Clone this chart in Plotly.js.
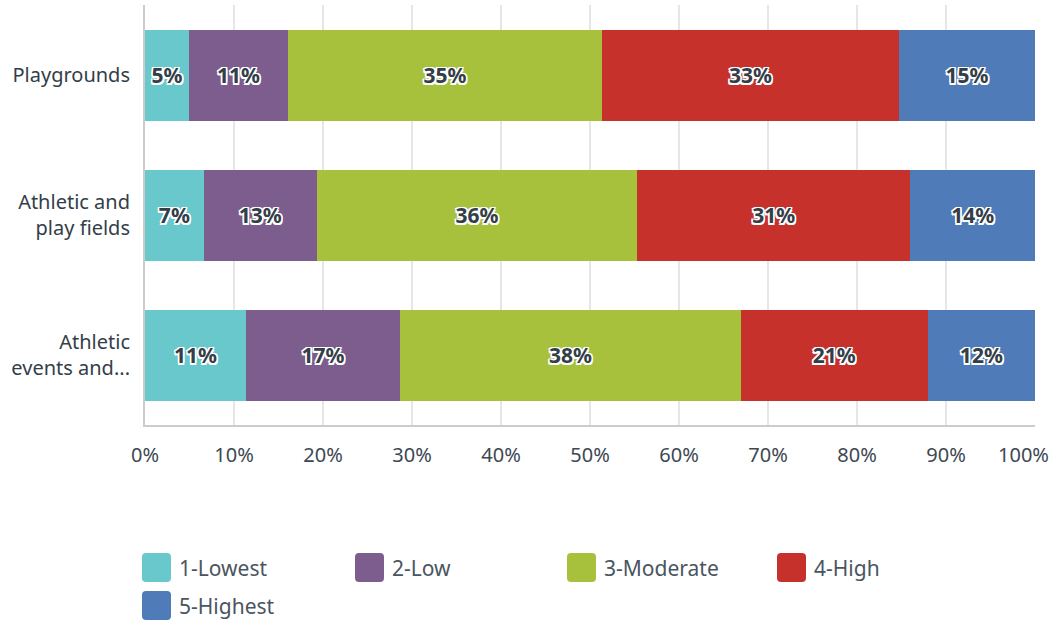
<!DOCTYPE html>
<html>
<head>
<meta charset="utf-8">
<script src="https://cdn.plot.ly/plotly-3.0.1.min.js"></script>
<style>html,body{margin:0;padding:0;background:#fff;}#chart{width:1054px;height:621px;}</style>
</head>
<body>
<div id="chart"></div>
<script>
const categories = ["Playgrounds", "Athletic and<br>play fields", "Athletic<br>events and..."];
const seriesNames = ["1-Lowest", "2-Low", "3-Moderate", "4-High", "5-Highest"];
const seriesColors = ["#68c8cc", "#7d5d8e", "#a7c13d", "#c7312c", "#4f7cb8"];
const lowest   = [4.94, 6.6, 11.35];
const low      = [11.13, 12.7, 17.3];
const moderate = [35.28, 36.0, 38.3];
const high     = [33.37, 30.7, 21.0];
const highest  = [15.28, 14.0, 12.05];
const tickVals = [0, 10, 20, 30, 40, 50, 60, 70, 80, 90, 100];
const tickText = ["0%", "10%", "20%", "30%", "40%", "50%", "60%", "70%", "80%", "90%", "100%"];

const seriesValues = [lowest, low, moderate, high, highest];
const FONT = "Noto Sans, Open Sans, sans-serif";
const outline = "1.5px 1.5px 0 #fff, -1.5px -1.5px 0 #fff, 1.5px -1.5px 0 #fff, -1.5px 1.5px 0 #fff, 0 1.5px 0 #fff, 0 -1.5px 0 #fff, 1.5px 0 0 #fff, -1.5px 0 0 #fff";

const traces = seriesNames.map((name, i) => ({
  type: "bar",
  orientation: "h",
  name: name,
  y: categories,
  x: seriesValues[i],
  marker: {color: seriesColors[i], line: {width: 0}},
  text: seriesValues[i].map(v => Math.round(v) + "%"),
  textposition: "inside",
  insidetextanchor: "middle",
  textangle: 0,
  constraintext: "none",
  textfont: {family: FONT, size: 21, color: "#333e48", weight: 700, shadow: outline},
  hoverinfo: "skip",
  showlegend: false
}));

// plot area in pixels
const L = 145, R = 1035, T = 5, B = 425;
const px = x => (x - L) / (R - L);
const py = y => (B - y) / (B - T);

const shapes = [];
const annotations = [];
const legendPos = [[142, 553], [355, 553], [567, 553], [777, 553], [142, 591]];
seriesNames.forEach((name, i) => {
  const [x0, y0] = legendPos[i];
  const s = 29, r = 4;
  const X = v => px(v), Y = v => py(v);
  const path = `M ${X(x0 + r)} ${Y(y0)} L ${X(x0 + s - r)} ${Y(y0)} Q ${X(x0 + s)} ${Y(y0)} ${X(x0 + s)} ${Y(y0 + r)} L ${X(x0 + s)} ${Y(y0 + s - r)} Q ${X(x0 + s)} ${Y(y0 + s)} ${X(x0 + s - r)} ${Y(y0 + s)} L ${X(x0 + r)} ${Y(y0 + s)} Q ${X(x0)} ${Y(y0 + s)} ${X(x0)} ${Y(y0 + s - r)} L ${X(x0)} ${Y(y0 + r)} Q ${X(x0)} ${Y(y0)} ${X(x0 + r)} ${Y(y0)} Z`;
  shapes.push({type: "path", xref: "paper", yref: "paper", path: path,
    fillcolor: seriesColors[i], line: {width: 0}});
  annotations.push({xref: "paper", yref: "paper", x: px(x0 + s + 6), y: py(y0 + s / 2),
    xanchor: "left", yanchor: "middle", showarrow: false, text: name,
    font: {family: FONT, size: 21, color: "#4a5560"}});
});

// last tick label shifted inside the page (as in the reference)
const lastIdx = tickText.length - 1;
annotations.push({xref: "paper", yref: "paper", x: px(1051), y: py(454),
  xanchor: "right", yanchor: "middle", showarrow: false, text: tickText[lastIdx],
  font: {family: FONT, size: 20, color: "#3d4852"}});
const shownTickText = tickText.map((t, i) => i === lastIdx ? "" : t);

const layout = {
  width: 1054, height: 621,
  margin: {l: L, r: 1054 - R, t: T, b: 621 - B, pad: 0},
  paper_bgcolor: "#fff", plot_bgcolor: "#fff",
  barmode: "stack",
  bargap: 0.35,
  showlegend: false,
  font: {family: FONT, color: "#333e48"},
  xaxis: {
    range: [0, 100], tickvals: tickVals, ticktext: shownTickText,
    showgrid: true, gridcolor: "#e6e6e6", gridwidth: 1.5,
    zeroline: false, showline: true, linecolor: "#cccccc", linewidth: 2,
    ticks: "", ticklabelstandoff: 11, ticklabeloverflow: "allow",
    tickfont: {family: FONT, size: 20, color: "#3d4852"},
    fixedrange: true, automargin: false
  },
  yaxis: {
    autorange: "reversed",
    showgrid: false, zeroline: false, showline: true, linecolor: "#cccccc", linewidth: 2,
    ticks: "", ticklabelstandoff: 9,
    tickfont: {family: FONT, size: 20, color: "#333e48"},
    fixedrange: true, automargin: false
  },
  shapes: shapes,
  annotations: annotations
};

Plotly.newPlot("chart", traces, layout, {displayModeBar: false, staticPlot: true});
</script>
</body>
</html>
